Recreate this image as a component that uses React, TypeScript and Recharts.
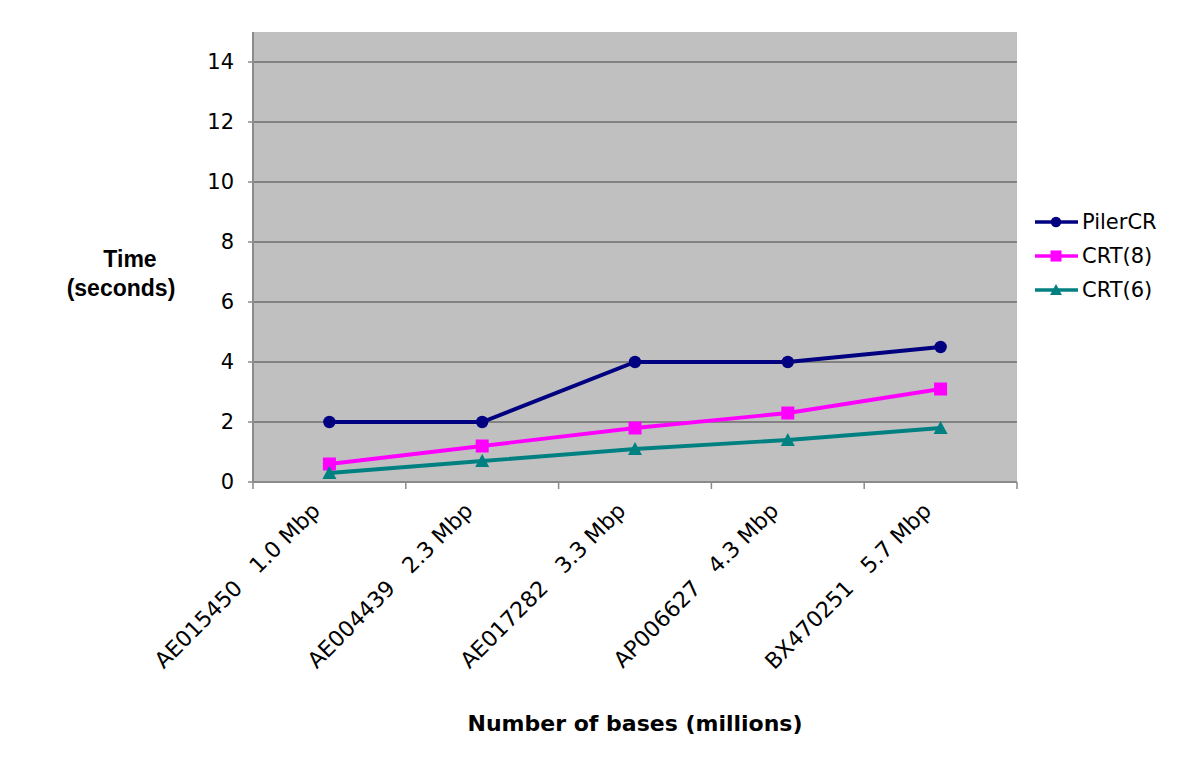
import React from "react";
import { LineChart, Line, XAxis, YAxis, CartesianGrid, Label } from "recharts";

const categories = [
  "AE015450   1.0 Mbp",
  "AE004439   2.3 Mbp",
  "AE017282   3.3 Mbp",
  "AP006627   4.3 Mbp",
  "BX470251   5.7 Mbp",
];
const pilerCR = [2, 2, 4, 4, 4.5];
const crt8 = [0.6, 1.2, 1.8, 2.3, 3.1];
const crt6 = [0.3, 0.7, 1.1, 1.4, 1.8];
const yTicks = [0, 2, 4, 6, 8, 10, 12, 14];

// category i is centred at i + 0.5; integer ticks are the category boundaries
const data = categories.map((c, i) => ({
  pos: i + 0.5,
  name: c,
  pilerCR: pilerCR[i],
  crt8: crt8[i],
  crt6: crt6[i],
}));
const xTicks: number[] = [];
for (let i = 0; i <= categories.length; i++) {
  xTicks.push(i);
  if (i < categories.length) xTicks.push(i + 0.5);
}

const series = [
  { key: "pilerCR", name: "PilerCR", color: "#000080", shape: "circle" },
  { key: "crt8", name: "CRT(8)", color: "#FF00FF", shape: "square" },
  { key: "crt6", name: "CRT(6)", color: "#008080", shape: "triangle" },
];

const Marker = ({ cx, cy, shape, color, size = 1 }: any) => {
  if (cx == null || cy == null) return null;
  if (shape === "circle") return <circle cx={cx} cy={cy} r={6.2 * size} fill={color} stroke="none" />;
  if (shape === "square") {
    const s = 6.5 * size;
    return <rect x={cx - s} y={cy - s} width={2 * s} height={2 * s} fill={color} stroke="none" />;
  }
  const s = 7 * size;
  return (
    <polygon
      points={`${cx},${cy - s} ${cx + s},${cy + s * 0.85} ${cx - s},${cy + s * 0.85}`}
      fill={color}
      stroke="none"
    />
  );
};

const LegendBox = () => (
  <div
    style={{
      position: "absolute",
      left: 1033,
      top: 205,
      fontFamily: "DejaVu Sans",
      fontSize: 21,
      color: "#000",
      lineHeight: "34px",
    }}
  >
    {series.map((s) => (
      <div key={s.key} style={{ display: "flex", alignItems: "center", height: 34 }}>
        <svg width={46} height={20} style={{ marginRight: 3 }}>
          <line x1={2} y1={10} x2={45} y2={10} stroke={s.color} strokeWidth={3.5} />
          <Marker cx={23} cy={10} shape={s.shape} color={s.color} size={0.85} />
        </svg>
        <span>{s.name}</span>
      </div>
    ))}
  </div>
);

const TimeLabel = () => (
  <text
    textAnchor="middle"
    style={{ fontFamily: "Liberation Sans", fontWeight: "bold", fontSize: 23 }}
    fill="#000"
  >
    <tspan x={130} y={267}>Time</tspan>
    <tspan x={121} y={296}>(seconds)</tspan>
  </text>
);

const XTick = (props: any) => {
  const { x, y, payload } = props;
  const v = payload.value;
  if (Number.isInteger(v)) {
    return <line x1={x} y1={y} x2={x} y2={y + 7} stroke="#8a8a8a" strokeWidth={1.5} />;
  }
  const ax = x - 8;
  const ay = y + 30;
  return (
    <text
      x={ax}
      y={ay}
      transform={`rotate(-45 ${ax} ${ay})`}
      textAnchor="end"
      fill="#000"
      style={{ fontFamily: "DejaVu Sans", fontSize: 22, whiteSpace: "pre" }}
    >
      {categories[Math.floor(v)]}
    </text>
  );
};

export default function App() {
  return (
    <div style={{ position: "absolute", left: 0, top: 0, width: 1200, height: 763, background: "#fff" }}>
      <LineChart
        width={1200}
        height={763}
        data={data}
        margin={{ top: 32, right: 183, left: 193, bottom: 31 }}
        style={{ fontFamily: "DejaVu Sans" }}
      >
        <CartesianGrid
          vertical={false}
          horizontal={true}
          fill="#C0C0C0"
          stroke="#6e6e6e"
          strokeWidth={1.3}
          horizontalValues={yTicks}
        />
        <XAxis
          dataKey="pos"
          type="number"
          domain={[0, categories.length]}
          ticks={xTicks}
          interval={0}
          height={250}
          tickSize={0}
          tickMargin={0}
          tickLine={false}
          axisLine={{ stroke: "#8a8a8a", strokeWidth: 2 }}
          tick={<XTick />}
        >
          <Label
            value="Number of bases (millions)"
            position="insideBottom"
            offset={1}
            style={{ fontFamily: "DejaVu Sans", fontWeight: "bold", fontSize: 22, fill: "#000" }}
          />
        </XAxis>
        <YAxis
          width={60}
          domain={[0, 15]}
          ticks={yTicks}
          interval={0}
          tickSize={5}
          tickMargin={14}
          axisLine={{ stroke: "#8a8a8a", strokeWidth: 2 }}
          tickLine={{ stroke: "#8a8a8a", strokeWidth: 1.5 }}
          tick={{ fill: "#000", fontSize: 21, fontFamily: "DejaVu Sans" }}
          label={<TimeLabel />}
        />
        {series.map((s) => (
          <Line
            key={s.key}
            dataKey={s.key}
            name={s.name}
            stroke={s.color}
            strokeWidth={3.8}
            isAnimationActive={false}
            dot={(p: any) => <Marker key={`${s.key}-${p.index}`} cx={p.cx} cy={p.cy} shape={s.shape} color={s.color} />}
            activeDot={false}
          />
        ))}
      </LineChart>
      <LegendBox />
    </div>
  );
}
